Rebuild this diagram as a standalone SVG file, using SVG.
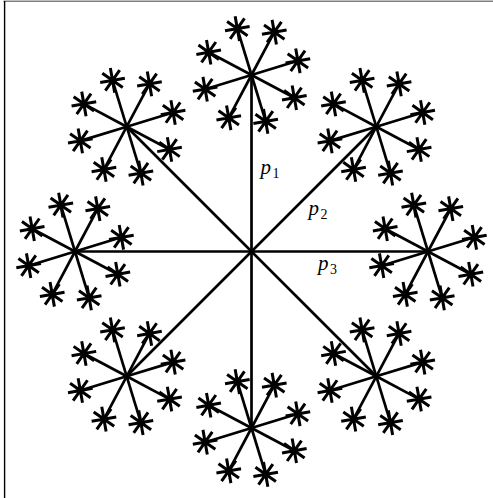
<svg xmlns="http://www.w3.org/2000/svg" xmlns:xlink="http://www.w3.org/1999/xlink" width="493" height="498" viewBox="0 0 493 498">
<style>
  .ln { stroke: #000; stroke-width: 2.7; fill: none; stroke-linecap: butt; }
  .ast { stroke: #000; stroke-width: 3; fill: none; }
  .lab { font-family: "Liberation Serif", "DejaVu Serif", serif; font-style: italic; font-size: 21px; fill: #000; }
  .sub { font-family: "Liberation Serif", "DejaVu Serif", serif; font-size: 14px; fill: #000; }
</style>
<defs>
  <path id="ast" class="ast" d="M-12.5,0H12.5M0,-12.5V12.5M-8.84,-8.84L8.84,8.84M-8.84,8.84L8.84,-8.84"/>
  <g id="sub">
    <g transform="rotate(-17)"><line class="ln" x1="0" y1="0" x2="48.5" y2="0"/><use xlink:href="#ast" transform="translate(48.5,0) rotate(7)"/></g>
    <g transform="rotate(28)"><line class="ln" x1="0" y1="0" x2="48.5" y2="0"/><use xlink:href="#ast" transform="translate(48.5,0) rotate(7)"/></g>
    <g transform="rotate(73)"><line class="ln" x1="0" y1="0" x2="48.5" y2="0"/><use xlink:href="#ast" transform="translate(48.5,0) rotate(7)"/></g>
    <g transform="rotate(118)"><line class="ln" x1="0" y1="0" x2="48.5" y2="0"/><use xlink:href="#ast" transform="translate(48.5,0) rotate(7)"/></g>
    <g transform="rotate(163)"><line class="ln" x1="0" y1="0" x2="48.5" y2="0"/><use xlink:href="#ast" transform="translate(48.5,0) rotate(7)"/></g>
    <g transform="rotate(208)"><line class="ln" x1="0" y1="0" x2="48.5" y2="0"/><use xlink:href="#ast" transform="translate(48.5,0) rotate(7)"/></g>
    <g transform="rotate(253)"><line class="ln" x1="0" y1="0" x2="48.5" y2="0"/><use xlink:href="#ast" transform="translate(48.5,0) rotate(7)"/></g>
    <g transform="rotate(298)"><line class="ln" x1="0" y1="0" x2="48.5" y2="0"/><use xlink:href="#ast" transform="translate(48.5,0) rotate(7)"/></g>
  </g>
</defs>
<rect width="493" height="498" fill="#fff"/>
<line x1="3.5" y1="1.3" x2="493" y2="1.3" stroke="#808080" stroke-width="1.4"/>
<line x1="4.6" y1="1" x2="4.6" y2="498" stroke="#000" stroke-width="1.4"/>
<g id="connectors">
  <line class="ln" x1="251.5" y1="251.5" x2="428" y2="251.5"/>
  <line class="ln" x1="251.5" y1="251.5" x2="376.3" y2="376.3"/>
  <line class="ln" x1="251.5" y1="251.5" x2="251.5" y2="428"/>
  <line class="ln" x1="251.5" y1="251.5" x2="126.7" y2="376.3"/>
  <line class="ln" x1="251.5" y1="251.5" x2="75" y2="251.5"/>
  <line class="ln" x1="251.5" y1="251.5" x2="126.7" y2="126.7"/>
  <line class="ln" x1="251.5" y1="251.5" x2="251.5" y2="75"/>
  <line class="ln" x1="251.5" y1="251.5" x2="376.3" y2="126.7"/>
</g>
<g id="star-e"><use xlink:href="#sub" transform="translate(428,251.5)"/></g>
<g id="star-se"><use xlink:href="#sub" transform="translate(376.3,376.3)"/></g>
<g id="star-s"><use xlink:href="#sub" transform="translate(251.5,428)"/></g>
<g id="star-sw"><use xlink:href="#sub" transform="translate(126.7,376.3)"/></g>
<g id="star-w"><use xlink:href="#sub" transform="translate(75,251.5)"/></g>
<g id="star-nw"><use xlink:href="#sub" transform="translate(126.7,126.7)"/></g>
<g id="star-n"><use xlink:href="#sub" transform="translate(251.5,75)"/></g>
<g id="star-ne"><use xlink:href="#sub" transform="translate(376.3,126.7)"/></g>
<g id="labels">
  <text class="lab" x="260.5" y="174">p</text><text class="sub" x="272.5" y="177.5">1</text>
  <text class="lab" x="308.5" y="215">p</text><text class="sub" x="320.5" y="218.5">2</text>
  <text class="lab" x="318" y="269.5">p</text><text class="sub" x="330" y="273.5">3</text>
</g>
</svg>
